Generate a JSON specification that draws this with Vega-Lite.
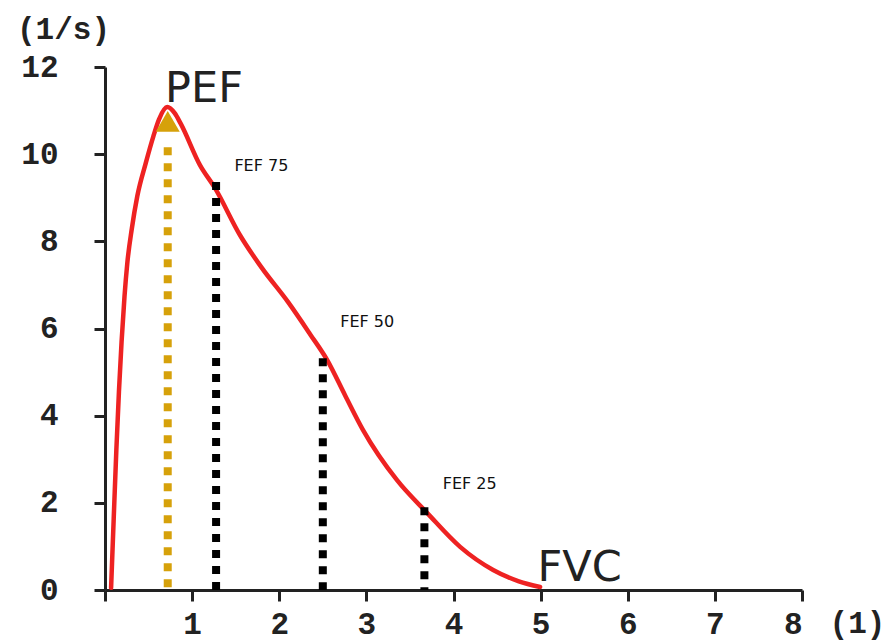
{
  "$schema": "https://vega.github.io/schema/vega-lite/v6.json",
  "width": 697,
  "height": 523,
  "autosize": {"type": "none"},
  "padding": {"left": 105, "top": 67, "right": 90, "bottom": 51},
  "background": "white",
  "config": {
    "view": {"stroke": null},
    "axis": {
      "grid": false,
      "domainColor": "#222222",
      "domainWidth": 3,
      "tickColor": "#222222",
      "tickWidth": 3,
      "tickSize": 11,
      "labelFont": "Liberation Mono",
      "labelFontWeight": "bold",
      "labelFontSize": 31,
      "labelColor": "#222222",
      "labelOverlap": false,
      "titleFont": "Liberation Mono",
      "titleFontWeight": "bold",
      "titleFontSize": 31,
      "titleColor": "#222222"
    }
  },
  "layer": [
    {
      "data": {"values": [
        {"v": 0.07, "f": 0.05},
        {"v": 0.1, "f": 1.64},
        {"v": 0.13, "f": 3.2},
        {"v": 0.16, "f": 4.55},
        {"v": 0.19, "f": 5.69},
        {"v": 0.224, "f": 6.74},
        {"v": 0.256, "f": 7.5},
        {"v": 0.307, "f": 8.28},
        {"v": 0.371, "f": 9.04},
        {"v": 0.467, "f": 9.79},
        {"v": 0.555, "f": 10.41},
        {"v": 0.62, "f": 10.8},
        {"v": 0.715, "f": 11.08},
        {"v": 0.8, "f": 10.94},
        {"v": 0.869, "f": 10.7},
        {"v": 1.09, "f": 9.75},
        {"v": 1.263, "f": 9.22},
        {"v": 1.55, "f": 8.14},
        {"v": 1.8, "f": 7.39},
        {"v": 2.1, "f": 6.61},
        {"v": 2.354, "f": 5.87},
        {"v": 2.549, "f": 5.28},
        {"v": 2.755, "f": 4.47},
        {"v": 2.962, "f": 3.67},
        {"v": 3.352, "f": 2.52},
        {"v": 3.697, "f": 1.77},
        {"v": 4.076, "f": 0.99},
        {"v": 4.455, "f": 0.46},
        {"v": 4.75, "f": 0.2},
        {"v": 4.994, "f": 0.07}
      ]},
      "mark": {"type": "line", "color": "#ee2222", "strokeWidth": 4.5, "interpolate": "monotone", "strokeCap": "round"},
      "encoding": {
        "x": {"field": "v", "type": "quantitative",
          "scale": {"domain": [0, 8], "nice": false},
          "axis": {"values": [0, 1, 2, 3, 4, 5, 6, 7, 8], "labelPadding": 8, "format": "d",
            "labelExpr": "datum.value == 0 ? '' : datum.label",
            "title": "(1)", "titleAngle": 0, "titleAlign": "center", "titleBaseline": "alphabetic",
            "titleX": 752, "titleY": 42}},
        "y": {"field": "f", "type": "quantitative",
          "scale": {"domain": [0, 12], "nice": false},
          "axis": {"values": [0, 2, 4, 6, 8, 10, 12], "labelPadding": 36, "format": "d",
            "title": "(1/s)", "titleAngle": 0, "titleAlign": "center", "titleBaseline": "alphabetic",
            "titleX": -42, "titleY": -29}}
      }
    },
    {
      "data": {"values": [
        {"v": 0.72, "top": 10.16, "kind": "PEF"},
        {"v": 1.275, "top": 9.36, "kind": "FEF 75"},
        {"v": 2.5, "top": 5.32, "kind": "FEF 50"},
        {"v": 3.666, "top": 1.9, "kind": "FEF 25"}
      ]},
      "mark": {"type": "rule", "strokeWidth": 8, "strokeDash": [8, 8], "strokeCap": "butt"},
      "encoding": {
        "x": {"field": "v", "type": "quantitative"},
        "y": {"field": "top", "type": "quantitative"},
        "y2": {"datum": 0},
        "color": {"field": "kind", "type": "nominal",
          "scale": {"domain": ["PEF", "FEF 75", "FEF 50", "FEF 25"], "range": ["#d6a10a", "#000000", "#000000", "#000000"]},
          "legend": null}
      }
    },
    {
      "data": {"values": [{"v": 0.72, "f": 10.75}]},
      "mark": {"type": "point", "shape": "triangle-up", "size": 576, "filled": true, "color": "#d6a10a", "opacity": 1, "strokeWidth": 0},
      "encoding": {
        "x": {"field": "v", "type": "quantitative"},
        "y": {"field": "f", "type": "quantitative"}
      }
    },
    {
      "data": {"values": [
        {"label": "PEF", "v": 0.69, "f": 11.19},
        {"label": "FVC", "v": 4.965, "f": 0.21}
      ]},
      "mark": {"type": "text", "font": "DejaVu Sans", "fontSize": 43, "align": "left", "baseline": "alphabetic", "color": "#222222"},
      "encoding": {
        "x": {"field": "v", "type": "quantitative"},
        "y": {"field": "f", "type": "quantitative"},
        "text": {"field": "label"}
      }
    },
    {
      "data": {"values": [
        {"label": "FEF 75", "v": 1.485, "f": 9.61},
        {"label": "FEF 50", "v": 2.70, "f": 6.03},
        {"label": "FEF 25", "v": 3.876, "f": 2.32}
      ]},
      "mark": {"type": "text", "font": "DejaVu Sans", "fontSize": 16, "align": "left", "baseline": "alphabetic", "color": "#111111"},
      "encoding": {
        "x": {"field": "v", "type": "quantitative"},
        "y": {"field": "f", "type": "quantitative"},
        "text": {"field": "label"}
      }
    }
  ]
}
